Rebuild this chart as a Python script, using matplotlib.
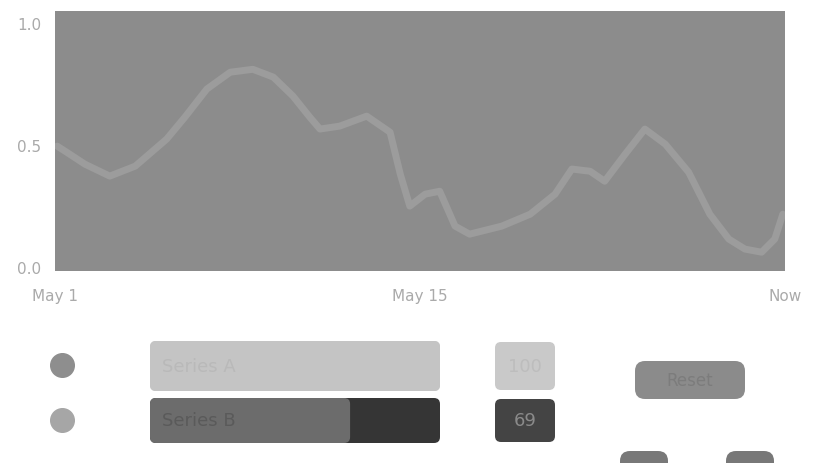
import matplotlib
matplotlib.use("Agg")
import matplotlib.pyplot as plt
from matplotlib.patches import FancyBboxPatch

# line series (x in % of the range, y on a 0..1 scale)
line_x = [0.3, 1.6, 4.1, 7.5, 11.0, 15.3, 17.8, 20.8, 24.0, 27.1, 29.9, 32.6,
          34.9, 36.3, 39.0, 42.7, 45.9, 47.3, 48.6, 50.7, 52.7, 54.8, 56.8,
          61.2, 65.1, 68.5, 70.8, 73.3, 75.3, 78.1, 80.8, 83.6, 86.8, 89.7,
          92.3, 94.5, 96.8, 98.6, 99.7]
line_y = [0.496, 0.471, 0.422, 0.373, 0.414, 0.525, 0.615, 0.730, 0.799,
          0.811, 0.779, 0.701, 0.615, 0.566, 0.578, 0.619, 0.553, 0.381,
          0.250, 0.299, 0.311, 0.168, 0.135, 0.168, 0.217, 0.299, 0.402,
          0.393, 0.352, 0.463, 0.566, 0.504, 0.389, 0.217, 0.115, 0.074,
          0.061, 0.115, 0.217]
x_ticks = [0, 50, 100]
x_tick_labels = ["May 1", "May 15", "Now"]
y_ticks = [0.0, 0.5, 1.0]
y_tick_labels = ["0.0", "0.5", "1.0"]

# rows of the panel under the chart
row_labels = ["Series A", "Series B"]
row_shares = [100, 69]
row_values = ["100", "69"]
row_dot_colors = ["#8e8e8e", "#a6a6a6"]
row_track_colors = ["#c4c4c4", "#353535"]
row_fill_colors = ["#c4c4c4", "#6c6c6c"]
row_text_colors = ["#b9b9b9", "#5a5a5a"]
row_box_colors = ["#c9c9c9", "#444444"]
row_box_text = ["#bdbdbd", "#8a8a8a"]
button_label = "Reset"


def draw_panel(ax):
    """Draws the legend rows, the value boxes and the buttons in pixel units."""
    ax.set_xlim(0, 824)
    ax.set_ylim(464, 0)
    ax.axis("off")

    row_top = [342, 399]
    row_h = [50, 45]
    track_x, track_w = 150, 290
    for i, label in enumerate(row_labels):
        y0, h = row_top[i], row_h[i]
        yc = y0 + h / 2
        ax.plot([62], [yc - 1], "o", ms=17, color=row_dot_colors[i])
        ax.add_patch(FancyBboxPatch((track_x, y0), track_w, h,
                                    boxstyle="round,pad=0,rounding_size=6",
                                    fc=row_track_colors[i], ec="none"))
        ax.add_patch(FancyBboxPatch((track_x, y0), track_w * row_shares[i] / 100, h,
                                    boxstyle="round,pad=0,rounding_size=6",
                                    fc=row_fill_colors[i], ec="none"))
        ax.text(track_x + 12, yc, label, fontsize=13, color=row_text_colors[i],
                ha="left", va="center")
        ax.add_patch(FancyBboxPatch((495, y0 + 1), 60, h - 2,
                                    boxstyle="round,pad=0,rounding_size=6",
                                    fc=row_box_colors[i], ec="none"))
        ax.text(525, yc, row_values[i], fontsize=13, color=row_box_text[i],
                ha="center", va="center")

    ax.add_patch(FancyBboxPatch((635, 362), 110, 38,
                                boxstyle="round,pad=0,rounding_size=10",
                                fc="#8b8b8b", ec="none"))
    ax.text(690, 381, button_label, fontsize=12, color="#7c7c7c",
            ha="center", va="center")
    for bx in [620, 726]:
        ax.add_patch(FancyBboxPatch((bx, 452), 48, 30,
                                    boxstyle="round,pad=0,rounding_size=10",
                                    fc="#787878", ec="none"))


fig = plt.figure(figsize=(8.24, 4.64), dpi=100)
panel = fig.add_axes([0, 0, 1, 1])
draw_panel(panel)

ax = fig.add_axes([55 / 824, 1 - 272 / 464, 730 / 824, 260 / 464])
ax.set_facecolor("#8c8c8c")
ax.plot(line_x, line_y, color="#9c9c9c", lw=5, solid_joinstyle="round",
        solid_capstyle="round")
ax.set_xlim(0, 100)
ax.set_ylim(-0.016, 1.05)
ax.set_xticks(x_ticks)
ax.set_xticklabels(x_tick_labels)
ax.set_yticks(y_ticks)
ax.set_yticklabels(y_tick_labels)
ax.tick_params(length=0, labelsize=11, labelcolor="#aaaaaa")
ax.tick_params(axis="x", pad=12)
ax.tick_params(axis="y", pad=10)
for s in ax.spines.values():
    s.set_visible(False)

fig.savefig("out.png", dpi=100)
